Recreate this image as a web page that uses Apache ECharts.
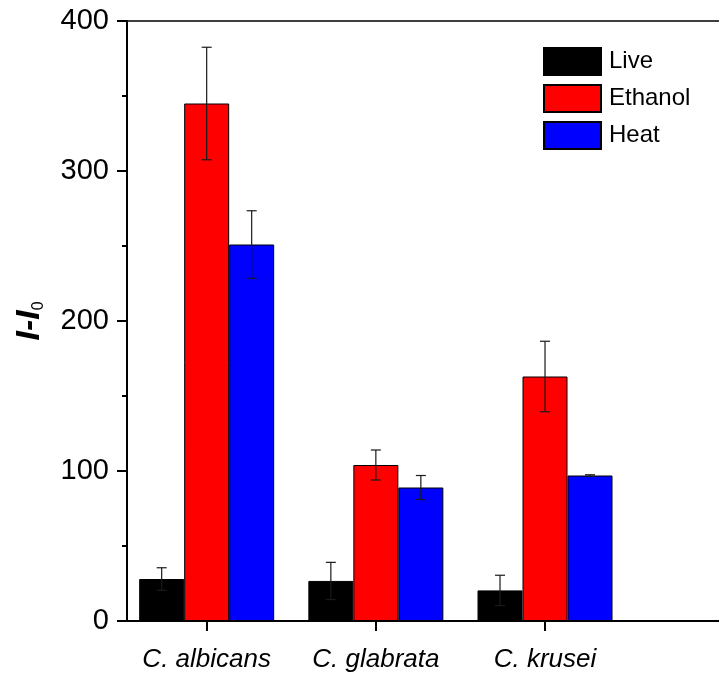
<!DOCTYPE html>
<html>
<head>
<meta charset="utf-8">
<script src="https://cdn.jsdelivr.net/npm/echarts@6/dist/echarts.min.js"></script>
<style>
  html, body { margin: 0; padding: 0; background: #ffffff; }
  #chart { width: 719px; height: 679px; }
</style>
</head>
<body>
<div id="chart"></div>
<script>
// Fluorescence response (I - I0) of three Candida species under three treatments
const categories = ['C. albicans', 'C. glabrata', 'C. krusei'];
const seriesNames = ['Live', 'Ethanol', 'Heat'];
const liveValues = [28, 26.7, 20.4];
const liveErrors = [7.5, 12.4, 10.1];
const ethanolValues = [345, 104, 163];
const ethanolErrors = [37.5, 10, 23.5];
const heatValues = [251, 89, 97];
const heatErrors = [22.5, 8, 0.5];
const yTicks = [0, 100, 200, 300, 400];

const FONT = '"Liberation Sans", Arial, sans-serif';
const colors = ['#000000', '#ff0000', '#0000ff'];
const BAR_W = 45;
const valueSets = [liveValues, ethanolValues, heatValues];
const errorSets = [liveErrors, ethanolErrors, heatErrors];
// group centres on the horizontal value axis
const positions = categories.map((c, i) => i + 1);
const X_MIN = 0.529;
const X_MAX = 4.194;

const barSeries = seriesNames.map((name, k) => ({
  name: name,
  type: 'bar',
  xAxisIndex: 0,
  barWidth: BAR_W,
  barGap: '0%',
  data: positions.map((p, i) => [p, valueSets[k][i]]),
  itemStyle: { color: colors[k], borderColor: '#000000', borderWidth: 1 },
  z: 2
}));

const errorSeries = seriesNames.map((name, k) => ({
  type: 'custom',
  xAxisIndex: 0,
  silent: true,
  z: 5,
  data: positions.map((p, i) => [p, valueSets[k][i], errorSets[k][i]]),
  renderItem: function (params, api) {
    const x = api.value(0), v = api.value(1), e = api.value(2);
    const top = api.coord([x, v + e]);
    const bot = api.coord([x, v - e]);
    const cx = top[0] + (k - 1) * BAR_W;
    const cap = 5;
    const style = { stroke: '#1a1a1a', lineWidth: 1.2 };
    return {
      type: 'group',
      children: [
        { type: 'line', shape: { x1: cx, y1: top[1], x2: cx, y2: bot[1] }, style: style },
        { type: 'line', shape: { x1: cx - cap, y1: top[1], x2: cx + cap, y2: top[1] }, style: style },
        { type: 'line', shape: { x1: cx - cap, y1: bot[1], x2: cx + cap, y2: bot[1] }, style: style }
      ]
    };
  }
}));

const chart = echarts.init(document.getElementById('chart'), null, { renderer: 'canvas' });
chart.setOption({
  backgroundColor: '#ffffff',
  animation: false,
  textStyle: { fontFamily: FONT },
  grid: { left: 127, top: 21, width: 620, height: 600, outerBoundsMode: 'none', containLabel: false },
  legend: {
    data: seriesNames,
    orient: 'vertical',
    left: 543,
    top: 47,
    padding: 0,
    itemWidth: 57,
    itemHeight: 27,
    itemGap: 8,
    icon: 'rect',
    textStyle: { fontSize: 24, color: '#000000', fontFamily: FONT, padding: [0, 0, 0, 3] }
  },
  xAxis: [
    {
      type: 'value',
      position: 'bottom',
      min: X_MIN,
      max: X_MAX,
      axisLine: { show: true, onZero: false, lineStyle: { color: '#000000', width: 2 } },
      axisTick: { show: true, customValues: positions, length: 10, lineStyle: { color: '#000000', width: 2 } },
      axisLabel: {
        customValues: positions,
        formatter: function (v) { return categories[Math.round(v) - 1]; },
        fontSize: 26,
        fontStyle: 'italic',
        color: '#000000',
        fontFamily: FONT,
        margin: 26
      },
      splitLine: { show: false }
    },
    {
      type: 'value',
      position: 'top',
      min: X_MIN,
      max: X_MAX,
      axisLine: { show: true, onZero: false, lineStyle: { color: '#000000', width: 1.5 } },
      axisTick: { show: false },
      axisLabel: { show: false },
      splitLine: { show: false }
    }
  ],
  yAxis: {
    type: 'value',
    min: yTicks[0],
    max: yTicks[yTicks.length - 1],
    interval: yTicks[1] - yTicks[0],
    axisLine: { show: true, lineStyle: { color: '#000000', width: 2 } },
    axisTick: { show: true, length: 10, lineStyle: { color: '#000000', width: 2 } },
    minorTick: { show: true, splitNumber: 2, length: 5, lineStyle: { color: '#000000', width: 2 } },
    axisLabel: { fontSize: 29, color: '#000000', fontFamily: FONT, margin: 18 },
    splitLine: { show: false },
    name: '{main|I-I}{sub|0}',
    nameLocation: 'middle',
    nameGap: 80,
    nameTextStyle: {
      rich: {
        main: { fontSize: 34, fontWeight: 'bold', fontStyle: 'italic', color: '#000000', fontFamily: FONT, lineHeight: 34 },
        sub: { fontSize: 16, color: '#000000', fontFamily: FONT, verticalAlign: 'bottom', lineHeight: 34 }
      }
    }
  },
  series: barSeries.concat(errorSeries)
});
</script>
</body>
</html>
